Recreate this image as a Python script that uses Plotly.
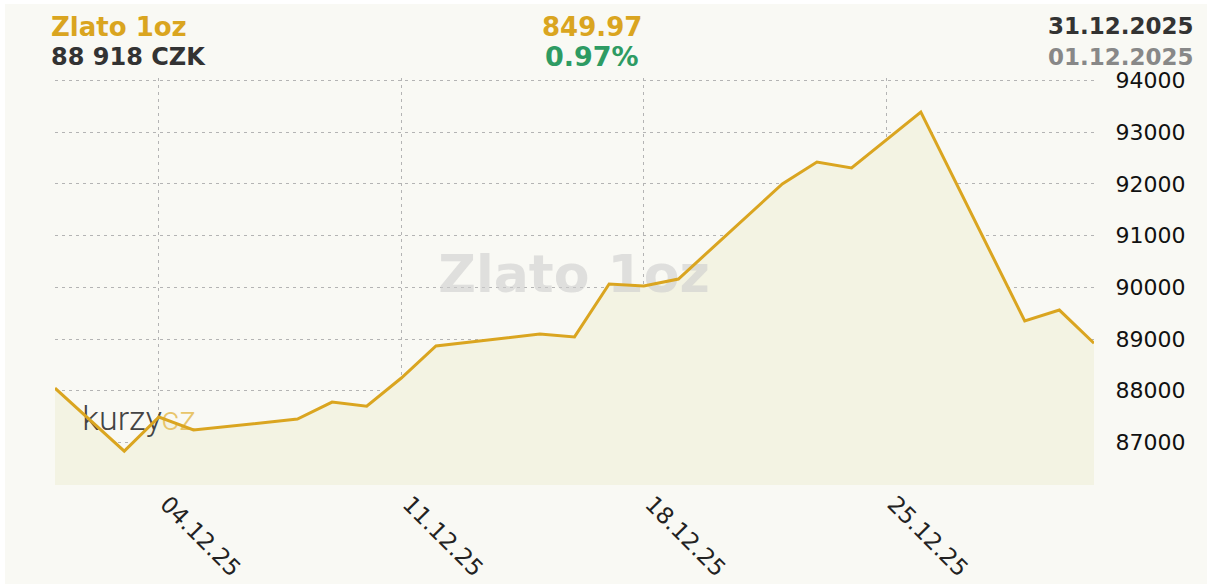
import plotly.graph_objects as go
import datetime as dt

# ---- data ----
dates = ["2025-12-01", "2025-12-03", "2025-12-04", "2025-12-05", "2025-12-08",
         "2025-12-09", "2025-12-10", "2025-12-11", "2025-12-12", "2025-12-15",
         "2025-12-16", "2025-12-17", "2025-12-18", "2025-12-19", "2025-12-22",
         "2025-12-23", "2025-12-24", "2025-12-26", "2025-12-29", "2025-12-30",
         "2025-12-31"]
prices = [88050, 86830, 87490, 87240, 87450,
          87780, 87700, 88245, 88865, 89097,
          89040, 90064, 90025, 90160, 92000,
          92424, 92308, 93391, 89348, 89560,
          88918]
x_tick_vals = ["2025-12-04", "2025-12-11", "2025-12-18", "2025-12-25"]
x_tick_text = ["04.12.25", "11.12.25", "18.12.25", "25.12.25"]
y_tick_vals = [87000, 88000, 89000, 90000, 91000, 92000, 93000, 94000]

title_name = "Zlato 1oz"
title_value = "88 918 CZK"
usd_value = "849.97"
change_pct = "0.97%"
date_end = "31.12.2025"
date_start = "01.12.2025"

# ---- style ----
GOLD = "#daa520"
FILL = "#f3f3e3"
BG = "#f9f9f4"
GRID = "#b4b4b4"
FONT = "DejaVu Sans"

x_range = ["2025-12-01", "2025-12-31"]
y_range = [86175, 94050]

# plot area geometry in pixels
W, H = 1207, 584
L, R, T, B = 55, 1207 - 1094, 78, 584 - 485
pw, ph = W - L - R, H - T - B


def px(xp):
    return (xp - L) / pw


def py(yp):
    return (H - B - yp) / ph


d0 = dt.datetime.fromisoformat(x_range[0])
d1 = dt.datetime.fromisoformat(x_range[1])


def data_x(xp):
    return (d0 + (d1 - d0) * px(xp)).isoformat()


def data_y(yp):
    return y_range[0] + (y_range[1] - y_range[0]) * py(yp)


fig = go.Figure()

# area fill
fig.add_trace(go.Scatter(x=dates, y=prices, mode="lines", line=dict(width=0, color=GOLD),
                         fill="tozeroy", fillcolor=FILL, hoverinfo="skip", showlegend=False))
# watermark
fig.add_trace(go.Scatter(x=[data_x(574)], y=[data_y(279)], mode="text", text=["<b>" + title_name + "</b>"],
                         textfont=dict(family=FONT, size=52, color="rgba(205,205,205,0.6)"),
                         hoverinfo="skip", showlegend=False))
# logo
fig.add_trace(go.Scatter(x=[data_x(139)], y=[data_y(421)], mode="text",
                         text=["kurzy<span style='color:#e8c56a'>cz</span>"],
                         textfont=dict(family="Roboto", size=34, color="#444444", weight=300),
                         hoverinfo="skip", showlegend=False))
# price line
fig.add_trace(go.Scatter(x=dates, y=prices, mode="lines", line=dict(width=3, color=GOLD),
                         showlegend=False))

fig.update_xaxes(type="date", range=x_range, tickvals=x_tick_vals, ticktext=x_tick_text,
                 tickangle=45, showgrid=True, gridcolor=GRID, griddash="3px,4px", gridwidth=1,
                 zeroline=False, showline=False, ticks="", ticklabelshift=8,
                 tickfont=dict(family=FONT, size=23, color="#222222"))
fig.update_yaxes(range=y_range, side="right", tickvals=y_tick_vals, tickformat="d",
                 showgrid=True, gridcolor=GRID, griddash="3px,4px", gridwidth=1,
                 zeroline=False, showline=False, ticks="outside", ticklen=16,
                 tickcolor="rgba(0,0,0,0)",
                 tickfont=dict(family=FONT, size=22, color="#111111"))

anns = [
    dict(text="<b>" + title_name + "</b>", x=px(49), y=py(27), xanchor="left",
         font=dict(size=26, color=GOLD)),
    dict(text="<b>" + title_value + "</b>", x=px(49), y=py(57), xanchor="left",
         font=dict(size=24, color="#333333")),
    dict(text="<b>" + usd_value + "</b>", x=px(592), y=py(27), xanchor="center",
         font=dict(size=26, color=GOLD)),
    dict(text="<b>" + change_pct + "</b>", x=px(592), y=py(57), xanchor="center",
         font=dict(size=27, color="#2e9b63")),
    dict(text="<b>" + date_end + "</b>", x=px(1196), y=py(26), xanchor="right",
         font=dict(size=23, color="#333333")),
    dict(text="<b>" + date_start + "</b>", x=px(1196), y=py(57), xanchor="right",
         font=dict(size=23, color="#888888")),
]
for a in anns:
    a.update(xref="paper", yref="paper", yanchor="middle", showarrow=False)
    a["font"]["family"] = FONT
    fig.add_annotation(**a)

fig.add_shape(type="rect", xref="paper", yref="paper", x0=px(5), x1=px(W + 5), y0=py(H + 5), y1=py(4),
              fillcolor=BG, line=dict(width=0), layer="below")

fig.update_layout(width=W, height=H, margin=dict(l=L, r=R, t=T, b=B, autoexpand=False),
                  paper_bgcolor="#ffffff", plot_bgcolor="rgba(0,0,0,0)",
                  font=dict(family=FONT), showlegend=False)

fig.write_html("out.html", config={"displayModeBar": False},
               post_script="document.body.style.margin='0';document.body.style.padding='0';")
